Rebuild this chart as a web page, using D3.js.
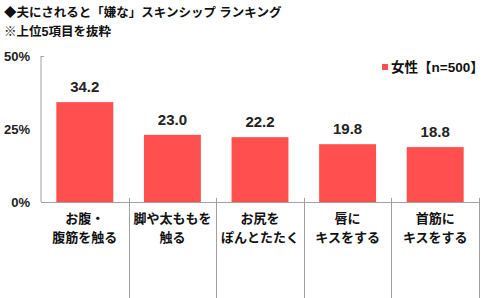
<!DOCTYPE html>
<html>
<head>
<meta charset="utf-8">
<script src="https://cdn.jsdelivr.net/npm/d3@7"></script>
<style>
  body { margin: 0; background: #fff; }
  svg text { font-family: "Liberation Sans", Arial, "Noto Sans CJK JP", sans-serif; }
</style>
</head>
<body>
<div id="chart"></div>
<script>
// data
const categories = [
    ["お腹・", "腹筋を触る"],
    ["脚や太ももを", "触る"],
    ["お尻を", "ぽんとたたく"],
    ["唇に", "キスをする"],
    ["首筋に", "キスをする"]
];
const values = [34.2, 23.0, 22.2, 19.8, 18.8];
const yTicks = [0, 25, 50];
const titleLines = ["◆夫にされると「嫌な」スキンシップ ランキング", "※上位5項目を抜粋"];
const seriesName = "女性【n=500】";

const svgWidth = 500;
const svgHeight = 298;
const margin = { top: 56, right: 21, bottom: 96, left: 41 };
const width = svgWidth - margin.left - margin.right;
const height = svgHeight - margin.top - margin.bottom;
const barColor = "#ff4f4f";
const axisColor = "#a0a0a0";

let svg = d3.select("#chart").append("svg")
    .attr("width", svgWidth)
    .attr("height", svgHeight);

// title
svg.selectAll(".title")
    .data(titleLines)
    .enter()
    .append("text")
    .attr("class", "title")
    .attr("x", 4)
    .attr("y", (d, i) => 17 + i * 19)
    .style("font-size", "12.5px")
    .style("font-weight", "bold")
    .style("fill", "#111")
    .text(d => d);

let g = svg.append("g")
    .attr("transform", "translate(" + margin.left + "," + margin.top + ")");

const xScale = d3.scaleBand()
    .domain(d3.range(categories.length))
    .range([0, width])
    .paddingInner(0.35)
    .paddingOuter(0.175);

const yScale = d3.scaleLinear()
    .domain([0, 50])
    .range([height, 0]);

// y axis
const yAxis = d3.axisLeft(yScale)
    .tickValues(yTicks)
    .tickSize(0)
    .tickPadding(11)
    .tickFormat(d => d + "%");

let yg = g.append("g").call(yAxis);
yg.select(".domain").remove();
yg.selectAll("text")
    .style("font-size", "13px")
    .style("font-weight", "bold")
    .style("fill", "#222");

g.append("line")
    .attr("x1", 0).attr("x2", 0)
    .attr("y1", 0).attr("y2", height)
    .attr("stroke", axisColor);
g.append("line")
    .attr("x1", 0).attr("x2", 3)
    .attr("y1", 0.5).attr("y2", 0.5)
    .attr("stroke", axisColor);

// bars
g.selectAll(".bar")
    .data(values)
    .enter()
    .append("rect")
    .attr("class", "bar")
    .attr("x", (d, i) => xScale(i))
    .attr("y", d => yScale(d))
    .attr("width", xScale.bandwidth())
    .attr("height", d => height - yScale(d))
    .style("fill", barColor);

// value labels
g.selectAll(".val")
    .data(values)
    .enter()
    .append("text")
    .attr("class", "val")
    .attr("x", (d, i) => xScale(i) + xScale.bandwidth() / 2)
    .attr("y", d => yScale(d) - 10)
    .attr("text-anchor", "middle")
    .style("font-size", "15px")
    .style("font-weight", "bold")
    .style("fill", "#222")
    .text(d => d.toFixed(1));

// x axis baseline
g.append("line")
    .attr("x1", 0).attr("x2", width)
    .attr("y1", height + 0.5).attr("y2", height + 0.5)
    .attr("stroke", axisColor);

// category separators
const step = xScale.step();
g.selectAll(".sep")
    .data(d3.range(1, categories.length + 1))
    .enter()
    .append("line")
    .attr("class", "sep")
    .attr("x1", i => Math.round(i * step) + 0.5)
    .attr("x2", i => Math.round(i * step) + 0.5)
    .attr("y1", height - 4)
    .attr("y2", svgHeight - margin.top)
    .attr("stroke", axisColor);

// category labels
categories.forEach((lines, i) => {
    lines.forEach((line, j) => {
        g.append("text")
            .attr("x", xScale(i) + xScale.bandwidth() / 2)
            .attr("y", height + 21 + j * 19)
            .attr("text-anchor", "middle")
            .style("font-size", "13px")
            .style("font-weight", "bold")
            .style("fill", "#111")
            .text(line);
    });
});

// legend
svg.append("rect")
    .attr("x", 382)
    .attr("y", 64)
    .attr("width", 6)
    .attr("height", 6)
    .style("fill", barColor);
svg.append("text")
    .attr("x", 391)
    .attr("y", 72)
    .style("font-size", "13.5px")
    .style("font-weight", "bold")
    .style("fill", "#111")
    .text(seriesName);
</script>
</body>
</html>
